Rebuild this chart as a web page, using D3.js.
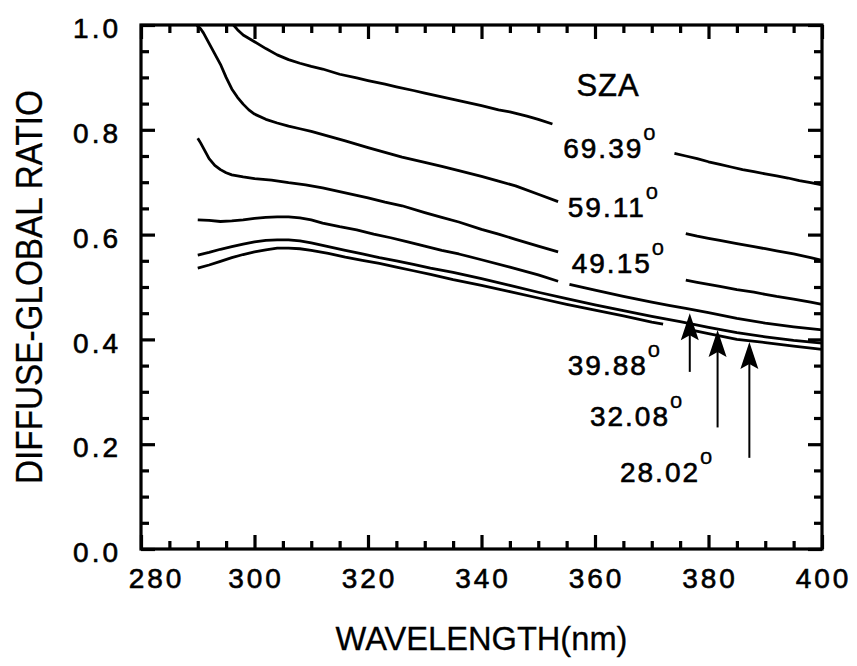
<!DOCTYPE html>
<html><head><meta charset="utf-8">
<script src="https://cdn.jsdelivr.net/npm/d3@7"></script>
<style>body{margin:0;background:#fff} svg{display:block}</style>
</head><body>
<svg id="chart" width="857" height="666"></svg>
<script>
// ---------- data ----------
const xTicks = [280, 300, 320, 340, 360, 380, 400];
const yTicks = [0.0, 0.2, 0.4, 0.6, 0.8, 1.0];
const xTickLabels = ["280", "300", "320", "340", "360", "380", "400"];
const yTickLabels = ["0.0", "0.2", "0.4", "0.6", "0.8", "1.0"];
const seriesNames = ["69.39", "59.11", "49.15", "39.88", "32.08", "28.02"];

// null marks a break in the curve (where a label interrupts it)
const wl6939 = [296.3,297,298,300,302,304,306,308,310,312,315,318,320,323,325,328,330,333,335,338,340,343,345,348,350,352.5,363,374,376,378,380,382,384,386,388,390,392,394,396,398,400];
const v6939  = [1.0,0.991,0.981,0.968,0.955,0.943,0.934,0.927,0.921,0.916,0.906,0.899,0.894,0.887,0.882,0.875,0.870,0.863,0.858,0.851,0.846,0.838,0.834,0.826,0.820,0.811,null,0.755,0.750,0.745,0.739,0.734,0.729,0.724,0.720,0.716,0.712,0.708,0.703,0.699,0.695];

const wl5911 = [289.8,290.5,291,292,293,294,295,296,297,298,299,300,302,304,306,308,310,313,316,320,323,326,330,333,336,340,343,346,350,353.5,365,376,378,380,382,385,388,390,392,395,398,400];
const v5911  = [1.0,0.993,0.985,0.965,0.945,0.925,0.900,0.878,0.862,0.849,0.838,0.830,0.820,0.813,0.807,0.802,0.797,0.788,0.779,0.766,0.757,0.748,0.738,0.730,0.722,0.711,0.702,0.693,0.677,0.663,null,0.602,0.597,0.593,0.589,0.583,0.577,0.573,0.569,0.563,0.556,0.551];

const wl4915 = [290,290.5,291,292,293,294,295,296,298,300,303,306,309,312,315,318,320,323,326,330,333,336,340,343,346,350,353.5,365,376,378,380,382,385,388,390,392,395,398,400];
const v4915  = [0.784,0.775,0.765,0.745,0.732,0.724,0.718,0.714,0.710,0.707,0.704,0.699,0.695,0.689,0.682,0.675,0.670,0.662,0.655,0.642,0.633,0.624,0.610,0.601,0.591,0.578,0.567,null,0.513,0.509,0.505,0.501,0.495,0.490,0.486,0.482,0.477,0.471,0.467];

const wl3988 = [290,292,294,296,298,300,302,304,306,308,310,312,315,318,321,324,327,330,333,336,340,345,350,353.5,354.5,355.5,360,365,370,373,376,380,385,390,395,400];
const v3988  = [0.628,0.627,0.625,0.626,0.628,0.631,0.633,0.634,0.634,0.632,0.628,0.622,0.615,0.609,0.601,0.594,0.586,0.578,0.570,0.563,0.552,0.538,0.523,0.511,null,0.505,0.494,0.482,0.471,0.465,0.459,0.451,0.440,0.431,0.424,0.418];

const wl3208 = [290,292,294,296,298,300,302,304,306,308,310,313,316,319,322,325,328,331,335,340,345,350,355,360,365,370,375,380,385,390,395,400];
const v3208  = [0.561,0.566,0.572,0.577,0.582,0.586,0.589,0.590,0.590,0.588,0.584,0.577,0.570,0.563,0.556,0.550,0.543,0.536,0.528,0.516,0.503,0.490,0.478,0.466,0.455,0.444,0.434,0.423,0.413,0.405,0.398,0.393];

const wl2802 = [290,292,294,296,298,300,302,304,306,308,310,313,316,319,322,325,328,331,335,340,345,350,355,360,365,370,372,374,376,380,385,390,395,400];
const v2802  = [0.536,0.542,0.549,0.556,0.562,0.567,0.571,0.574,0.574,0.573,0.570,0.564,0.557,0.551,0.545,0.538,0.531,0.524,0.514,0.503,0.491,0.479,0.467,0.456,0.445,0.433,0.429,null,0.420,0.411,0.400,0.394,0.387,0.381];

// label anchors (wavelength, ratio) and arrows
const labelWl = [354.4, 355.2, 355.9, 355.2, 359.1, 364.4];
const labelV  = [0.746, 0.634, 0.527, 0.332, 0.235, 0.128];
const szaWl = 362.3, szaV = 0.864;
const arrowWl   = [376.7, 381.6, 387.2];
const arrowTip  = [0.450, 0.418, 0.395];
const arrowTail = [0.338, 0.232, 0.174];

// ---------- layout ----------
const svg = d3.select("#chart");
const L = 141, R = 822, T = 25, B = 549;
const x = d3.scaleLinear().domain([280, 400]).range([L, R]);
const y = d3.scaleLinear().domain([0, 1]).range([B, T]);
const FONT = "'Liberation Sans', Arial, Helvetica, sans-serif";

const series = [
  [wl6939, v6939], [wl5911, v5911], [wl4915, v4915],
  [wl3988, v3988], [wl3208, v3208], [wl2802, v2802]
];

const line = d3.line()
  .defined(d => d[1] !== null)
  .x(d => x(d[0])).y(d => y(d[1]));

const gCurves = svg.append("g");
series.forEach(([w, v]) => {
  gCurves.append("path")
    .datum(w.map((ww, i) => [ww, v[i]]))
    .attr("d", line)
    .attr("fill", "none")
    .attr("stroke", "#000")
    .attr("stroke-width", 2.8)
    .attr("stroke-linejoin", "round");
});

// ---------- axes (inward ticks on all four sides) ----------
const minorX = d3.range(280, 401, 5).filter(v => v % 20 !== 0);
const minorY = d3.range(0, 21, 1).map(i => i * 0.05).filter((v, i) => i % 4 !== 0);
const MAJ = 14, MIN = 8;

function styleAxis(g) {
  g.select(".domain").remove();
  g.selectAll(".tick line").attr("stroke", "#000").attr("stroke-width", 3.2);
}
function styleText(sel) {
  sel.attr("font-family", FONT).attr("font-size", 28).attr("fill", "#000")
     .attr("stroke", "#000").attr("stroke-width", 0.6).attr("letter-spacing", "3px");
}

// bottom
svg.append("g").attr("transform", `translate(0,${B})`)
  .call(d3.axisBottom(x).tickValues(minorX).tickSize(-MIN).tickFormat(""))
  .call(styleAxis);
svg.append("g").attr("transform", `translate(0,${B})`)
  .call(d3.axisBottom(x).tickValues(xTicks).tickSize(-MAJ).tickPadding(19)
        .tickFormat((d, i) => xTickLabels[i]))
  .call(styleAxis)
  .call(g => g.selectAll("text").call(styleText)
     .attr("dx", (d, i) => i === 0 ? 15 : 1));
// top
svg.append("g").attr("transform", `translate(0,${T})`)
  .call(d3.axisTop(x).tickValues(minorX).tickSize(-MIN).tickFormat(""))
  .call(styleAxis);
svg.append("g").attr("transform", `translate(0,${T})`)
  .call(d3.axisTop(x).tickValues(xTicks).tickSize(-MAJ).tickFormat(""))
  .call(styleAxis);
// left
svg.append("g").attr("transform", `translate(${L},0)`)
  .call(d3.axisLeft(y).tickValues(minorY).tickSize(-MIN).tickFormat(""))
  .call(styleAxis);
svg.append("g").attr("transform", `translate(${L},0)`)
  .call(d3.axisLeft(y).tickValues(yTicks).tickSize(-MAJ).tickPadding(20)
        .tickFormat((d, i) => yTickLabels[i]))
  .call(styleAxis)
  .call(g => g.selectAll("text").call(styleText).attr("dy", "0.45em"));
// right
svg.append("g").attr("transform", `translate(${R},0)`)
  .call(d3.axisRight(y).tickValues(minorY).tickSize(-MIN).tickFormat(""))
  .call(styleAxis);
svg.append("g").attr("transform", `translate(${R},0)`)
  .call(d3.axisRight(y).tickValues(yTicks).tickSize(-MAJ).tickFormat(""))
  .call(styleAxis);

// frame
svg.append("rect").attr("x", L).attr("y", T).attr("width", R - L).attr("height", B - T)
  .attr("fill", "none").attr("stroke", "#000").attr("stroke-width", 3.2);

// ---------- axis titles ----------
svg.append("text")
  .attr("transform", `translate(${(L + R) / 2},650) scale(0.96,1)`)
  .attr("text-anchor", "middle").attr("font-family", FONT).attr("font-size", 34)
  .attr("stroke", "#000").attr("stroke-width", 0.3)
  .text("WAVELENGTH(nm)");
svg.append("text")
  .attr("transform", `translate(42,${(T + B) / 2}) rotate(-90) scale(0.9,1)`)
  .attr("text-anchor", "middle").attr("font-family", FONT).attr("font-size", 37)
  .attr("stroke", "#000").attr("stroke-width", 0.3)
  .text("DIFFUSE-GLOBAL RATIO");

// ---------- annotations ----------
svg.append("text").attr("x", x(szaWl)).attr("y", y(szaV))
  .attr("text-anchor", "middle").attr("font-family", FONT).attr("font-size", 31)
  .attr("stroke", "#000").attr("stroke-width", 0.5)
  .attr("letter-spacing", "1px").text("SZA");

seriesNames.forEach((name, i) => {
  const t = svg.append("text").attr("x", x(labelWl[i])).attr("y", y(labelV[i]))
    .attr("font-family", FONT).attr("font-size", 28).attr("letter-spacing", "2px")
    .attr("stroke", "#000").attr("stroke-width", 0.6);
  t.append("tspan").text(name);
  t.append("tspan").attr("font-size", 22).attr("dy", -18).attr("dx", 0)
    .attr("stroke-width", 0.3).text("o");
});

// arrows
arrowWl.forEach((w, i) => {
  const ax = x(w), ty = y(arrowTip[i]), by = y(arrowTail[i]);
  svg.append("line").attr("x1", ax).attr("x2", ax).attr("y1", ty + 20).attr("y2", by)
    .attr("stroke", "#000").attr("stroke-width", 2);
  svg.append("path")
    .attr("d", `M${ax},${ty} L${ax + 9},${ty + 27} L${ax},${ty + 22} L${ax - 9},${ty + 27} Z`)
    .attr("fill", "#000");
});
</script>
</body></html>
